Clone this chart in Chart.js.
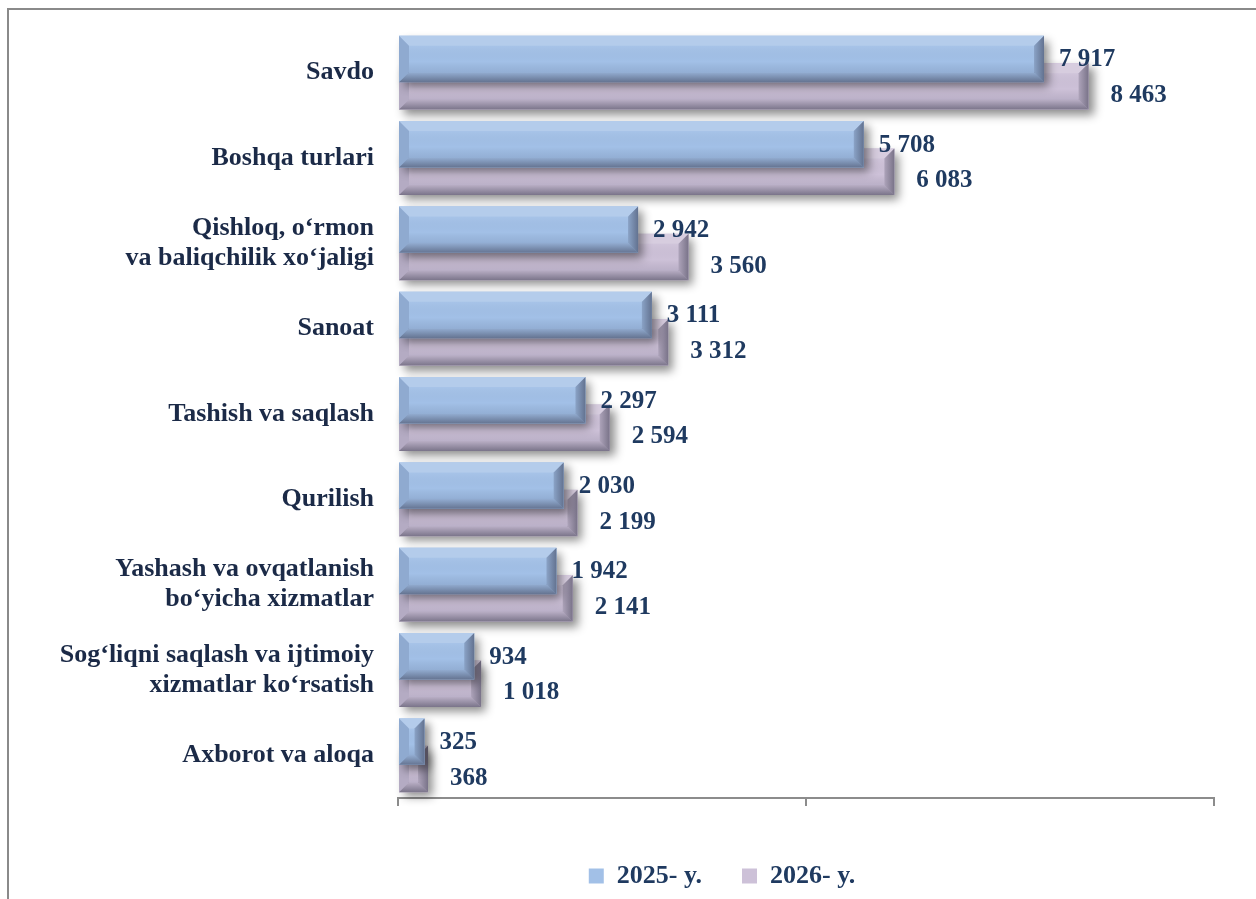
<!DOCTYPE html>
<html>
<head>
<meta charset="utf-8">
<script src="https://cdn.jsdelivr.net/npm/chart.js@4.4.1/dist/chart.umd.min.js"></script>
<style>
  html, body { margin: 0; padding: 0; background: #ffffff; overflow: hidden; }
  #frame { position: absolute; left: 7px; top: 8px; width: 2000px; height: 2000px;
           border-left: 2px solid #8a8a8a; border-top: 2px solid #8a8a8a; z-index: 0; }
  #c { position: absolute; left: 0; top: 0; z-index: 1; }
</style>
</head>
<body>
<div id="frame"></div>
<canvas id="c" width="1256" height="899"></canvas>
<script>
// ---- data ----
const categories = [
  'Savdo',
  'Boshqa turlari',
  ['Qishloq, o‘rmon', 'va baliqchilik xo‘jaligi'],
  'Sanoat',
  'Tashish va saqlash',
  'Qurilish',
  ['Yashash va ovqatlanish', 'bo‘yicha xizmatlar'],
  ['Sog‘liqni saqlash va ijtimoiy', 'xizmatlar ko‘rsatish'],
  'Axborot va aloqa'
];
const values2025 = [7917, 5708, 2942, 3111, 2297, 2030, 1942, 934, 325];
const values2026 = [8463, 6083, 3560, 3312, 2594, 2199, 2141, 1018, 368];
const seriesNames = ['2025- y.', '2026- y.'];
const xTicks = [0, 5000, 10000];

// ---- styles ----
const FONT = "'Liberation Serif', 'Times New Roman', serif";
const COLORS = ['#a2c0e7', '#cdc1d8'];
const LABEL_COLOR = '#1f3a60';
const CAT_COLOR = '#1b2a47';

function fmt(v) { return String(v).replace(/\B(?=(\d{3})+(?!\d))/g, ' '); }

function poly(ctx, pts, fill) {
  ctx.beginPath();
  ctx.moveTo(pts[0][0], pts[0][1]);
  for (let i = 1; i < pts.length; i++) ctx.lineTo(pts[i][0], pts[i][1]);
  ctx.closePath();
  ctx.fillStyle = fill;
  ctx.fill();
}

function barRect(el) {
  const p = el.getProps(['x', 'y', 'base', 'height'], true);
  return { x0: Math.min(p.base, p.x), x1: Math.max(p.base, p.x), y0: p.y - p.height / 2, y1: p.y + p.height / 2, cy: p.y };
}

const bevelPlugin = {
  id: 'bevel',
  beforeDatasetDraw(chart, args) {
    const ctx = chart.ctx;
    const color = COLORS[args.index];
    ctx.save();
    ctx.shadowColor = 'rgba(0,0,0,0.45)';
    ctx.shadowBlur = 9;
    ctx.shadowOffsetX = 5;
    ctx.shadowOffsetY = 5;
    ctx.fillStyle = color;
    args.meta.data.forEach(el => {
      const r = barRect(el);
      ctx.fillRect(r.x0, r.y0, r.x1 - r.x0, r.y1 - r.y0);
    });
    ctx.restore();
  },
  afterDatasetDraw(chart, args) {
    const ctx = chart.ctx;
    ctx.save();
    args.meta.data.forEach(el => {
      const r = barRect(el);
      const w = r.x1 - r.x0, h = r.y1 - r.y0;
      const b = Math.min(10, w / 2, h / 2);
      poly(ctx, [[r.x0, r.y0], [r.x1, r.y0], [r.x1 - b, r.y0 + b], [r.x0 + b, r.y0 + b]], 'rgba(255,255,255,0.2)');
      const g = ctx.createLinearGradient(0, r.y1 - b, 0, r.y1);
      g.addColorStop(0, 'rgba(40,40,60,0.12)');
      g.addColorStop(1, 'rgba(40,40,60,0.5)');
      poly(ctx, [[r.x0, r.y1], [r.x1, r.y1], [r.x1 - b, r.y1 - b], [r.x0 + b, r.y1 - b]], g);
      poly(ctx, [[r.x0, r.y0], [r.x0 + b, r.y0 + b], [r.x0 + b, r.y1 - b], [r.x0, r.y1]], 'rgba(40,50,80,0.15)');
      const gr = ctx.createLinearGradient(r.x1 - b, 0, r.x1, 0);
      gr.addColorStop(0, 'rgba(30,30,50,0.18)');
      gr.addColorStop(1, 'rgba(30,30,50,0.48)');
      poly(ctx, [[r.x1, r.y0], [r.x1 - b, r.y0 + b], [r.x1 - b, r.y1 - b], [r.x1, r.y1]], gr);
      const gf = ctx.createLinearGradient(0, r.y0 + b, 0, r.y1 - b);
      gf.addColorStop(0, 'rgba(255,255,255,0.06)');
      gf.addColorStop(0.6, 'rgba(0,0,0,0)');
      gf.addColorStop(1, 'rgba(20,30,60,0.1)');
      ctx.fillStyle = gf;
      ctx.fillRect(r.x0 + b, r.y0 + b, Math.max(0, w - 2 * b), Math.max(0, h - 2 * b));
    });
    ctx.restore();
  }
};

const valueLabelPlugin = {
  id: 'valueLabels',
  afterDatasetsDraw(chart) {
    const ctx = chart.ctx;
    ctx.save();
    ctx.font = 'bold 25px ' + FONT;
    ctx.fillStyle = LABEL_COLOR;
    ctx.textBaseline = 'middle';
    ctx.textAlign = 'left';
    chart.data.datasets.forEach((ds, di) => {
      const meta = chart.getDatasetMeta(di);
      meta.data.forEach((el, i) => {
        const r = barRect(el);
        const dx = di === 0 ? 15 : 22;
        const dy = di === 0 ? 1 : 9;
        ctx.fillText(fmt(ds.data[i]), r.x1 + dx, r.cy + dy);
      });
    });
    ctx.restore();
  }
};

const legendShift = {
  id: 'legendShift',
  afterLayout(chart) {
    const lg = chart.legend;
    if (lg) { lg.left = 230; }
  }
};

new Chart(document.getElementById('c'), {
  type: 'bar',
  data: {
    labels: categories,
    datasets: [
      { label: seriesNames[0], data: values2025, backgroundColor: COLORS[0], borderWidth: 0,
        categoryPercentage: 0.644, barPercentage: 1.69 },
      { label: seriesNames[1], data: values2026, backgroundColor: COLORS[1], borderWidth: 0,
        categoryPercentage: 0.644, barPercentage: 1.69 }
    ]
  },
  options: {
    indexAxis: 'y',
    responsive: false,
    animation: false,
    layout: { padding: { top: 30, right: 42, bottom: 0, left: 0 } },
    scales: {
      x: {
        min: xTicks[0], max: xTicks[xTicks.length - 1],
        ticks: { display: false, stepSize: xTicks[1] - xTicks[0] },
        grid: { drawOnChartArea: false, drawTicks: true, tickLength: 8, color: '#8c8c8c', lineWidth: 2 },
        border: { display: true, color: '#8c8c8c', width: 2 },
        afterFit: s => { s.height = 25; s.paddingLeft = 0; s.paddingRight = 0; }
      },
      y: {
        grid: { display: false, drawTicks: false },
        border: { display: false },
        ticks: { color: CAT_COLOR, padding: 24, font: { family: FONT, size: 26, weight: 'bold', lineHeight: 1.15 } },
        afterFit: s => { s.width = 398; s.paddingTop = 0; s.paddingBottom = 0; }
      }
    },
    plugins: {
      legend: {
        position: 'bottom',
        labels: { color: LABEL_COLOR, boxWidth: 15, boxHeight: 15, padding: 40,
                  font: { family: FONT, size: 26, weight: 'bold' } }
      },
      tooltip: { enabled: false }
    }
  },
  plugins: [bevelPlugin, valueLabelPlugin, legendShift]
});
</script>
</body>
</html>
